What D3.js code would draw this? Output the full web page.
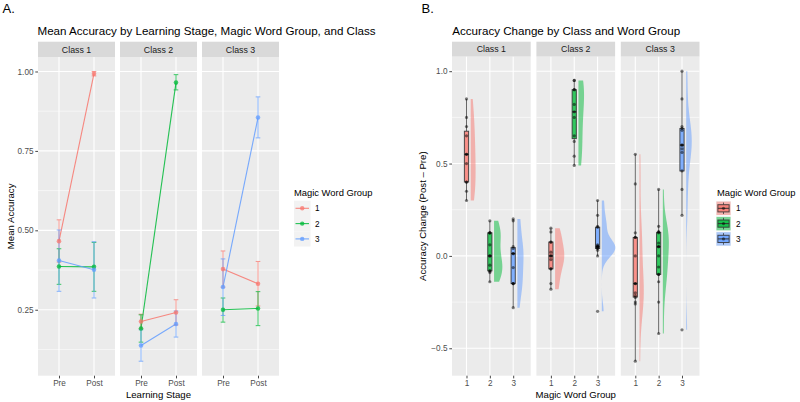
<!DOCTYPE html>
<html><head><meta charset="utf-8">
<script src="https://cdn.jsdelivr.net/npm/d3@7"></script>
<style>
body{margin:0;background:#fff}
text{font-family:"Liberation Sans",Arial,Helvetica,sans-serif}
</style>
</head><body>
<svg id="c" width="800" height="402"></svg>
<script>
// ---------------- DATA ----------------
const classes = ["Class 1", "Class 2", "Class 3"];
const groups = ["1", "2", "3"];
const stages = ["Pre", "Post"];
const groupColors = ["#F8766D", "#00BA38", "#619CFF"];

// Panel A: mean accuracy  [class][group][Pre, Post]
const meanAcc = [
  [[0.466, 0.993], [0.386, 0.385], [0.405, 0.376]],
  [[0.213, 0.2415], [0.191, 0.965], [0.1375, 0.205]],
  [[0.378, 0.332], [0.250, 0.254], [0.3215, 0.855]]
];
const accLower = [
  [[0.400, 0.986], [0.330, 0.308], [0.308, 0.287]],
  [[0.190, 0.202], [0.148, 0.942], [0.088, 0.164]],
  [[0.321, 0.262], [0.211, 0.200], [0.232, 0.791]]
];
const accUpper = [
  [[0.533, 1.000], [0.442, 0.462], [0.501, 0.464]],
  [[0.236, 0.2815], [0.234, 0.990], [0.187, 0.246]],
  [[0.435, 0.402], [0.287, 0.307], [0.410, 0.920]]
];
const yTicksA = [0.25, 0.50, 0.75, 1.00];
const yMinorA = [0.125, 0.375, 0.625, 0.875];

// Panel B: individual accuracy change (Post - Pre)  [class][group]
const change = [
  [
    [0.85, 0.75, 0.70, 0.65, 0.55, 0.55, 0.50, 0.40, 0.40, 0.35, 0.30],
    [0.19, 0.125, 0.125, 0.125, 0.06, 0, 0, -0.05, -0.08, -0.083, -0.09, -0.14],
    [0.20, 0.19, 0.05, 0.04, 0.0125, 0.0125, -0.063, -0.15, -0.15, -0.15, -0.28]
  ],
  [
    [0.15, 0.13, 0.075, 0.075, 0.02, 0, 0, -0.02, -0.07, -0.07, -0.15, -0.18],
    [0.95, 0.95, 0.90, 0.90, 0.82, 0.78, 0.75, 0.65, 0.62, 0.54, 0.49],
    [0.30, 0.22, 0.16, 0.155, 0.06, 0.055, 0.05, 0.05, 0.045, 0.04, 0.03, 0.0, -0.30]
  ],
  [
    [0.55, 0.39, 0.125, 0.10, 0.10, 0.0, -0.15, -0.15, -0.20, -0.215, -0.225, -0.25, -0.26, -0.57],
    [0.36, 0.16, 0.13, 0.13, 0.125, 0.07, 0.05, 0.05, 0.0, -0.06, -0.10, -0.10, -0.14, -0.25, -0.42],
    [1.0, 0.85, 0.70, 0.69, 0.68, 0.60, 0.60, 0.58, 0.56, 0.46, 0.36, 0.22, -0.40]
  ]
];
const yTicksB = [-0.5, 0.0, 0.5, 1.0];
const yMinorB = [-0.25, 0.25, 0.75];

// ---------------- DRAWING ----------------
const svg = d3.select("#c");
const STRIP = "#D9D9D9", PANEL = "#EBEBEB", TICK = "#333333", TXT = "#4D4D4D", DARK = "#1A1A1A";

function styleAxis(g) {
  g.select(".domain").remove();
  g.selectAll(".tick line").attr("stroke", TICK).attr("stroke-width", 0.9);
  g.selectAll(".tick text").attr("fill", TXT).attr("font-size", 8.2)
    .attr("font-family", '"Liberation Sans",Arial,Helvetica,sans-serif');
}

// ===== Panel A =====
const A = {x0: 38, w: 77, gap: 5, top: 57, bottom: 375.7, stripTop: 41.7};
const loA = d3.min(accLower.flat(2)), hiA = d3.max(accUpper.flat(2));
const padA = (hiA - loA) * 0.05;
const yA = d3.scaleLinear().domain([loA - padA, hiA + padA]).range([A.bottom, A.top]);
const xA = d3.scalePoint().domain(stages).range([0, A.w]).padding(0.6);

svg.append("text").attr("x", 2.5).attr("y", 12.5).attr("font-size", 13).attr("fill", "#000").text("A.");
svg.append("text").attr("x", 37.5).attr("y", 34.5).attr("font-size", 11.6).attr("fill", "#000")
  .text("Mean Accuracy by Learning Stage, Magic Word Group, and Class");

classes.forEach((cl, ci) => {
  const px = A.x0 + ci * (A.w + A.gap);
  const g = svg.append("g").attr("transform", `translate(${px},0)`);
  g.append("rect").attr("x", 0).attr("y", A.stripTop).attr("width", A.w).attr("height", A.top - A.stripTop).attr("fill", STRIP);
  g.append("text").attr("x", A.w / 2).attr("y", (A.stripTop + A.top) / 2 + 3.2).attr("text-anchor", "middle")
    .attr("font-size", 8.8).attr("fill", DARK).text(cl);
  g.append("rect").attr("x", 0).attr("y", A.top).attr("width", A.w).attr("height", A.bottom - A.top).attr("fill", PANEL);
  g.selectAll(".mn").data(yMinorA).join("line").attr("x1", 0).attr("x2", A.w)
    .attr("y1", d => yA(d)).attr("y2", d => yA(d)).attr("stroke", "#fff").attr("stroke-width", 0.55);
  g.selectAll(".mj").data(yTicksA).join("line").attr("x1", 0).attr("x2", A.w)
    .attr("y1", d => yA(d)).attr("y2", d => yA(d)).attr("stroke", "#fff").attr("stroke-width", 1.1);
  g.selectAll(".vx").data(stages).join("line").attr("x1", d => xA(d)).attr("x2", d => xA(d))
    .attr("y1", A.top).attr("y2", A.bottom).attr("stroke", "#fff").attr("stroke-width", 1.1);

  groups.forEach((gr, gi) => {
    const pts = stages.map((s, si) => [xA(s), yA(meanAcc[ci][gi][si])]);
    g.append("path").attr("d", d3.line()(pts)).attr("fill", "none")
      .attr("stroke", groupColors[gi]).attr("stroke-width", 1.1).attr("opacity", 0.85);
  });
  groups.forEach((gr, gi) => {
    stages.forEach((s, si) => {
      const x = xA(s), y1 = yA(accLower[ci][gi][si]), y2 = yA(accUpper[ci][gi][si]);
      const eb = g.append("g").attr("stroke", groupColors[gi]).attr("stroke-width", 1).attr("opacity", 0.75);
      eb.append("line").attr("x1", x).attr("x2", x).attr("y1", y1).attr("y2", y2);
      eb.append("line").attr("x1", x - 2.3).attr("x2", x + 2.3).attr("y1", y1).attr("y2", y1);
      eb.append("line").attr("x1", x - 2.3).attr("x2", x + 2.3).attr("y1", y2).attr("y2", y2);
    });
  });
  groups.forEach((gr, gi) => {
    g.selectAll(null).data(stages).join("circle")
      .attr("cx", d => xA(d)).attr("cy", (d, si) => yA(meanAcc[ci][gi][si])).attr("r", 2.3)
      .attr("fill", groupColors[gi]).attr("opacity", 0.75);
  });

  const ax = g.append("g").attr("transform", `translate(0,${A.bottom})`)
    .call(d3.axisBottom(xA).tickSize(2.7).tickPadding(2));
  styleAxis(ax);
  if (ci === 0) {
    const ay = g.append("g").call(d3.axisLeft(yA).tickValues(yTicksA).tickFormat(d3.format(".2f")).tickSize(2.7).tickPadding(1.8));
    styleAxis(ay);
  }
});
svg.append("text").attr("x", A.x0 + (3 * A.w + 2 * A.gap) / 2).attr("y", 397.5).attr("text-anchor", "middle")
  .attr("font-size", 9.6).attr("fill", "#000").text("Learning Stage");
svg.append("text").attr("transform", `translate(13.8,${(A.top + A.bottom) / 2}) rotate(-90)`).attr("text-anchor", "middle")
  .attr("font-size", 9.6).attr("fill", "#000").text("Mean Accuracy");

// legend A
const LA = svg.append("g");
LA.append("text").attr("x", 294).attr("y", 196).attr("font-size", 9.4).attr("fill", "#000").text("Magic Word Group");
groups.forEach((gr, gi) => {
  const cy = 208.3 + gi * 15.3;
  LA.append("rect").attr("x", 294).attr("y", cy - 7.65).attr("width", 16.5).attr("height", 15.3).attr("fill", "#F2F2F2");
  LA.append("line").attr("x1", 295.5).attr("x2", 309).attr("y1", cy).attr("y2", cy)
    .attr("stroke", groupColors[gi]).attr("stroke-width", 1.1).attr("opacity", 0.85);
  LA.append("circle").attr("cx", 302.2).attr("cy", cy).attr("r", 2.2).attr("fill", groupColors[gi]).attr("opacity", 0.75);
  LA.append("text").attr("x", 315).attr("y", cy + 3).attr("font-size", 8.2).attr("fill", "#000").text(gr);
});

// ===== Panel B =====
const B = {x0: 452, w: 78.7, gap: 5.7, top: 56.7, bottom: 375.7, stripTop: 41.7};
const allB = change.flat(2);
const loB = d3.min(allB), hiB = d3.max(allB), padB = (hiB - loB) * 0.05;
const yB = d3.scaleLinear().domain([loB - padB, hiB + padB]).range([B.bottom, B.top]);
const xB = d3.scaleLinear().domain([0.379, 3.75]).range([0, B.w]);
const gpos = gi => xB(gi + 1);

svg.append("text").attr("x", 421.5).attr("y", 12.5).attr("font-size", 13).attr("fill", "#000").text("B.");
svg.append("text").attr("x", 452.3).attr("y", 34.5).attr("font-size", 11.6).attr("fill", "#000")
  .text("Accuracy Change by Class and Word Group");

function nrd0(v) {
  const s = v.slice().sort(d3.ascending);
  const sd = d3.deviation(s);
  const iqr = d3.quantile(s, 0.75) - d3.quantile(s, 0.25);
  let lo = Math.min(sd, iqr / 1.34);
  if (!(lo > 0)) lo = sd || 1;
  return 0.9 * lo * Math.pow(s.length, -0.2);
}
function kde(v) {
  const bw = nrd0(v), n = v.length, mn = d3.min(v), mx = d3.max(v);
  const out = [];
  for (let k = 0; k <= 120; k++) {
    const y = mn + (mx - mn) * k / 120;
    let s = 0;
    v.forEach(xi => { const u = (y - xi) / bw; s += Math.exp(-0.5 * u * u); });
    out.push([y, s / (n * bw * Math.sqrt(2 * Math.PI))]);
  }
  return out;
}
const dens = change.map(c => c.map(kde));
const maxDen = d3.max(dens.flat(), d => d3.max(d, e => e[1]));
const violinW = 0.58, violinOff = 0.18, boxHalf = 0.09;

classes.forEach((cl, ci) => {
  const px = B.x0 + ci * (B.w + B.gap);
  const g = svg.append("g").attr("transform", `translate(${px},0)`);
  g.append("rect").attr("x", 0).attr("y", B.stripTop).attr("width", B.w).attr("height", B.top - B.stripTop).attr("fill", STRIP);
  g.append("text").attr("x", B.w / 2).attr("y", (B.stripTop + B.top) / 2 + 3.2).attr("text-anchor", "middle")
    .attr("font-size", 8.8).attr("fill", DARK).text(cl);
  g.append("rect").attr("x", 0).attr("y", B.top).attr("width", B.w).attr("height", B.bottom - B.top).attr("fill", PANEL);
  g.selectAll(".mn").data(yMinorB).join("line").attr("x1", 0).attr("x2", B.w)
    .attr("y1", d => yB(d)).attr("y2", d => yB(d)).attr("stroke", "#fff").attr("stroke-width", 0.55);
  g.selectAll(".mj").data(yTicksB).join("line").attr("x1", 0).attr("x2", B.w)
    .attr("y1", d => yB(d)).attr("y2", d => yB(d)).attr("stroke", "#fff").attr("stroke-width", 1.1);
  g.selectAll(".vx").data(groups).join("line").attr("x1", (d, i) => gpos(i)).attr("x2", (d, i) => gpos(i))
    .attr("y1", B.top).attr("y2", B.bottom).attr("stroke", "#fff").attr("stroke-width", 1.1);

  groups.forEach((gr, gi) => {
    const v = change[ci][gi];
    const cx = gpos(gi);
    const base = xB(gi + 1 + violinOff);
    const unit = xB(1) - xB(0);
    const d = dens[ci][gi];
    const poly = [[base, yB(d[0][0])]]
      .concat(d.map(e => [base + e[1] / maxDen * violinW * unit, yB(e[0])]))
      .concat([[base, yB(d[d.length - 1][0])]]);
    g.append("path").attr("d", d3.line()(poly) + "Z").attr("fill", groupColors[gi]).attr("fill-opacity", 0.5);

    const s = v.slice().sort(d3.ascending);
    const q1 = d3.quantile(s, 0.25), med = d3.quantile(s, 0.5), q3 = d3.quantile(s, 0.75);
    const iqr = q3 - q1;
    const wHi = d3.max(s.filter(x => x <= q3 + 1.5 * iqr));
    const wLo = d3.min(s.filter(x => x >= q1 - 1.5 * iqr));
    const bw = boxHalf * unit;
    const bg = g.append("g").attr("stroke", "#333").attr("stroke-width", 1);
    bg.append("line").attr("x1", cx).attr("x2", cx).attr("y1", yB(q3)).attr("y2", yB(wHi)).attr("stroke-opacity", 0.75);
    bg.append("line").attr("x1", cx).attr("x2", cx).attr("y1", yB(q1)).attr("y2", yB(wLo)).attr("stroke-opacity", 0.75);
    bg.append("rect").attr("x", cx - bw).attr("width", 2 * bw).attr("y", yB(q3)).attr("height", yB(q1) - yB(q3))
      .attr("fill", groupColors[gi]).attr("fill-opacity", 0.8).attr("stroke-opacity", 0.85);
    bg.append("line").attr("x1", cx - bw).attr("x2", cx + bw).attr("y1", yB(med)).attr("y2", yB(med)).attr("stroke-width", 1.4);

    g.selectAll(null).data(v).join("circle").attr("cx", cx).attr("cy", x => yB(x)).attr("r", 1.6)
      .attr("fill", "#000").attr("fill-opacity", 0.5);
  });

  const ax = g.append("g").attr("transform", `translate(0,${B.bottom})`)
    .call(d3.axisBottom(xB).tickValues([1, 2, 3]).tickFormat(d3.format("d")).tickSize(2.7).tickPadding(2));
  styleAxis(ax);
  if (ci === 0) {
    const ay = g.append("g").call(d3.axisLeft(yB).tickValues(yTicksB).tickFormat(d3.format(".1f")).tickSize(2.7).tickPadding(1.8));
    styleAxis(ay);
  }
});
svg.append("text").attr("x", B.x0 + (3 * B.w + 2 * B.gap) / 2).attr("y", 397.5).attr("text-anchor", "middle")
  .attr("font-size", 9.6).attr("fill", "#000").text("Magic Word Group");
svg.append("text").attr("transform", `translate(425.5,${(B.top + B.bottom) / 2}) rotate(-90)`).attr("text-anchor", "middle")
  .attr("font-size", 9.6).attr("fill", "#000").text("Accuracy Change (Post – Pre)");

// legend B
const LB = svg.append("g");
LB.append("text").attr("x", 717).attr("y", 196).attr("font-size", 9.4).attr("fill", "#000").text("Magic Word Group");
groups.forEach((gr, gi) => {
  const cy = 208.3 + gi * 15.3, kx = 716, kw = 15, kh = 14.4;
  LB.append("rect").attr("x", kx).attr("y", cy - kh / 2).attr("width", kw).attr("height", kh).attr("fill", "#F2F2F2");
  LB.append("rect").attr("x", kx + 0.5).attr("y", cy - kh / 2 + 0.5).attr("width", kw - 1).attr("height", kh - 1)
    .attr("fill", groupColors[gi]).attr("fill-opacity", 0.5);
  const k = LB.append("g").attr("stroke", "#333").attr("stroke-width", 1);
  k.append("line").attr("x1", kx + kw / 2).attr("x2", kx + kw / 2).attr("y1", cy - kh * 0.4).attr("y2", cy - kh * 0.25).attr("stroke-opacity", 0.75);
  k.append("line").attr("x1", kx + kw / 2).attr("x2", kx + kw / 2).attr("y1", cy + kh * 0.25).attr("y2", cy + kh * 0.4).attr("stroke-opacity", 0.75);
  k.append("rect").attr("x", kx + kw * 0.125).attr("y", cy - kh * 0.25).attr("width", kw * 0.75).attr("height", kh * 0.5)
    .attr("fill", groupColors[gi]).attr("fill-opacity", 0.8).attr("stroke-opacity", 0.85);
  k.append("line").attr("x1", kx + kw * 0.125).attr("x2", kx + kw * 0.875).attr("y1", cy).attr("y2", cy);
  LB.append("circle").attr("cx", kx + kw / 2).attr("cy", cy).attr("r", 1.6).attr("fill", "#000").attr("fill-opacity", 0.5);
  LB.append("text").attr("x", 736).attr("y", cy + 3).attr("font-size", 8.2).attr("fill", "#000").text(gr);
});
</script>
</body></html>
